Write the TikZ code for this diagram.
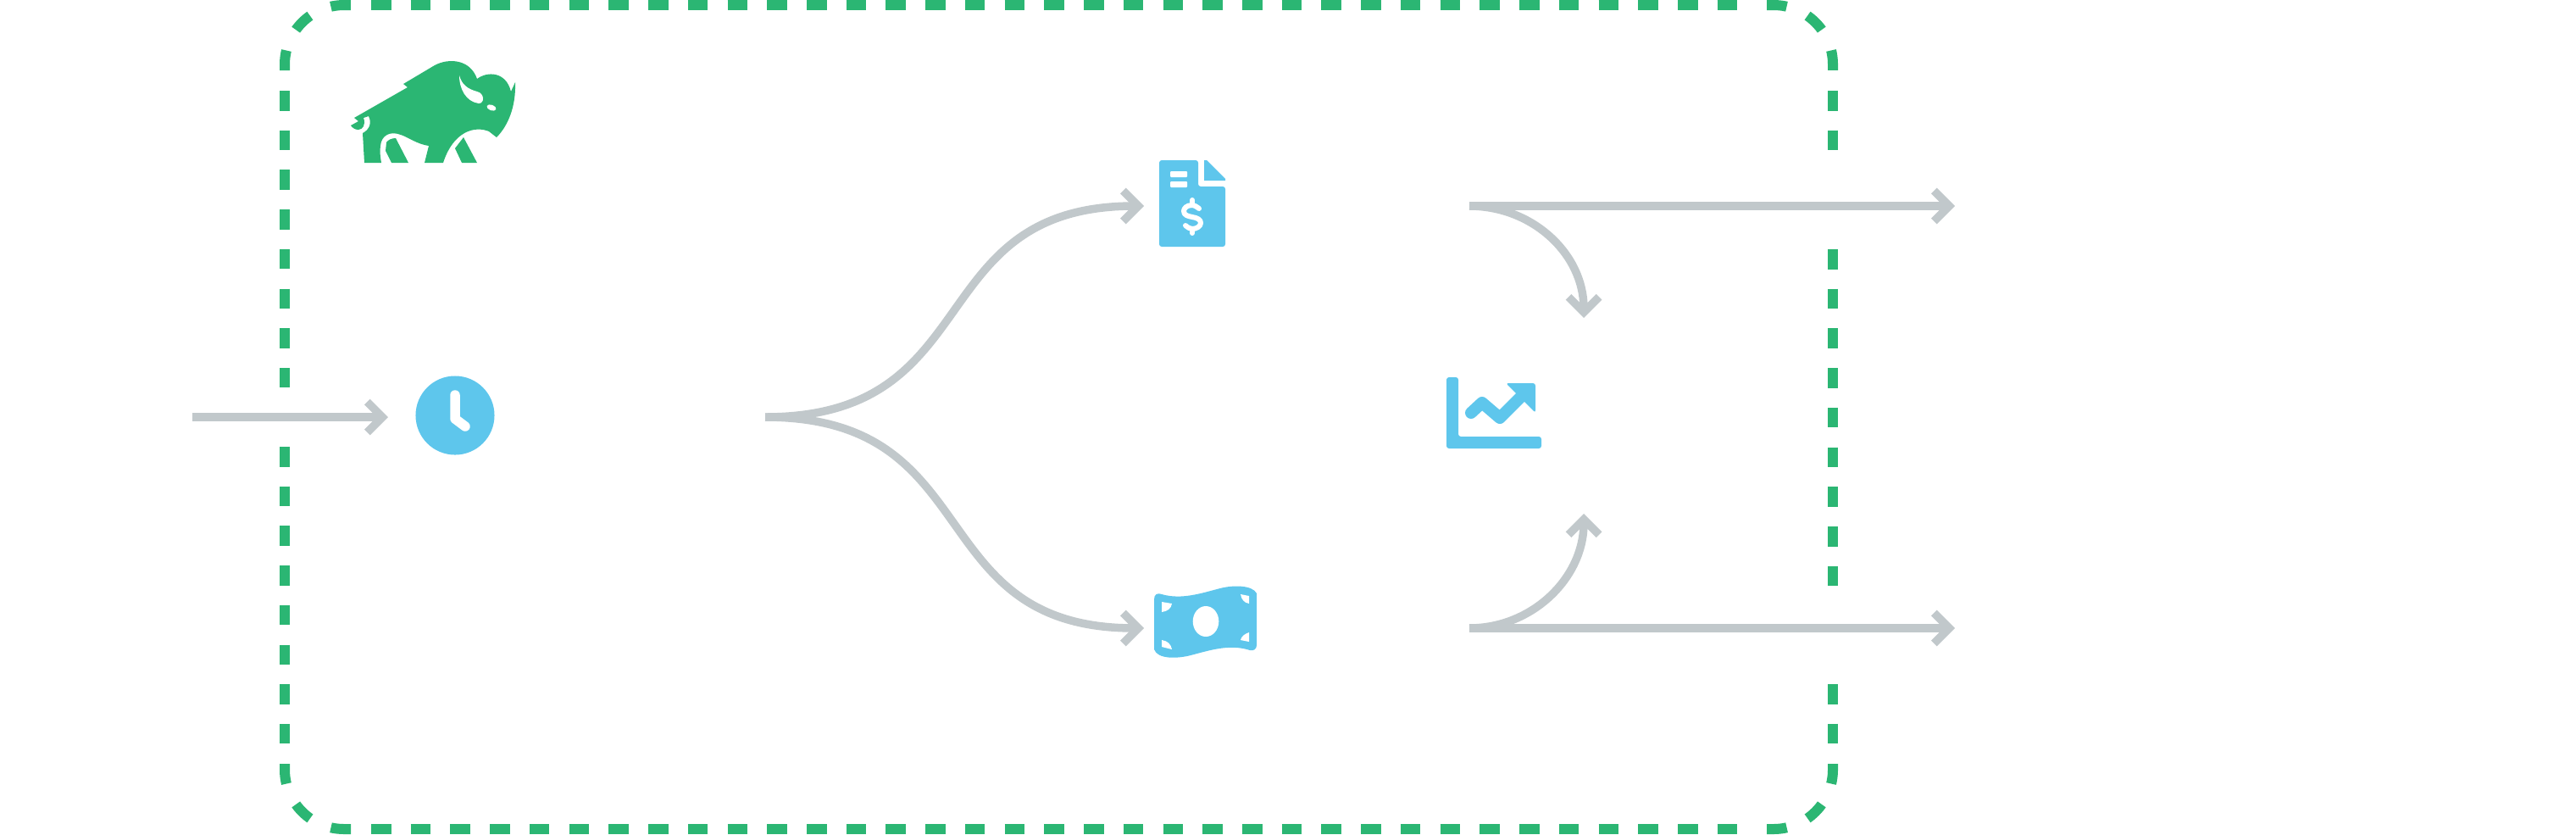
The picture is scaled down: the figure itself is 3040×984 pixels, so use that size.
\documentclass[tikz,border=0pt]{standalone}
\usetikzlibrary{arrows.meta}

\definecolor{boxgreen}{HTML}{2BB673}
\definecolor{iconblue}{HTML}{5EC6EC}
\definecolor{flowgrey}{HTML}{C1C8CB}

\begin{document}
\begin{tikzpicture}[x=0.01cm, y=-0.01cm,
    flow/.style={draw=flowgrey, line width=0.095cm, -{Straight Barb[length=0.18cm, width=0.36cm, line width=0.095cm]}},
    wallside/.style={draw=boxgreen, line width=0.12cm, dash pattern=on 0.235cm off 0.232cm},
    wallcorner/.style={draw=boxgreen, line width=0.12cm, rounded corners=0.7cm, dash pattern=on 0.236cm off 0.27cm},
    icon/.style={fill=iconblue, draw=none},
    cut/.style={fill=white, draw=none},
    hand/.style={draw=white, line cap=round, line join=round},
    clockface/.style={circle, fill=iconblue, inner sep=0pt, minimum size=0.93cm}]
  \useasboundingbox (0,0) rectangle (3040,984);

  \foreach \a/\b/\c/\d in {336/107/336/457, 336/527/336/877, 2163/107/2163/177, 2163/294/2163/691, 2163/807/2163/877, 438/6/2061/6, 438/978/2061/978}
    \draw[wallside] (\a,\b) -- (\c,\d);
  \draw[wallcorner] (336,83) -- (336,6) -- (414,6);
  \draw[wallcorner] (2085,6) -- (2163,6) -- (2163,83);
  \draw[wallcorner] (2163,901) -- (2163,978) -- (2085,978);
  \draw[wallcorner] (414,978) -- (336,978) -- (336,901);

  \coordinate (in) at (227,492);
  \coordinate (intip) at (458,492);
  \coordinate (split) at (903,492);
  \coordinate (doctip) at (1350,243);
  \coordinate (billtip) at (1350,741);
  \coordinate (upper) at (1734,243);
  \coordinate (lower) at (1734,741);
  \coordinate (uppertip) at (2307,243);
  \coordinate (lowertip) at (2307,741);
  \coordinate (chartin) at (1869,375);
  \coordinate (chartout) at (1869,606);

  \node (clock) [clockface] at (537,490) {};
  \draw[hand, line width=0.115cm] (537,466) -- (537,494) -- (549,503);

  \draw[flow] (in) -- (intip);
  \draw[flow] (split) .. controls +(264,0) and +(-264,0) .. (doctip);
  \draw[flow] (split) .. controls +(264,0) and +(-264,0) .. (billtip);
  \draw[flow] (upper) -- (uppertip);
  \draw[flow] (lower) -- (lowertip);
  \draw[flow] (upper) .. controls +(75,0) and +(0,-75) .. (chartin);
  \draw[flow] (lower) .. controls +(75,0) and +(0,75) .. (chartout);

  \fill[boxgreen] (430,192) -- (428,157) .. controls (436,153) and (439,145) .. (435,137) -- (429,139)
    .. controls (432,147) and (428,153) .. (423,153) .. controls (419,153) and (416,151) .. (414,148)
    -- (423,143) -- (418,139) -- (481,103) -- (476,99) -- (513,77)
    .. controls (530,68) and (555,70) .. (563,93) .. controls (575,84) and (597,84) .. (603,108)
    -- (608,97) .. controls (609,125) and (600,148) .. (586,162) -- (577,155)
    .. controls (560,148) and (535,155) .. (523,192) -- (501,192) -- (506,172)
    .. controls (492,170) and (482,162) .. (473,159) .. controls (460,154) and (450,160) .. (449,172)
    .. controls (448,180) and (449,186) .. (450,192) -- cycle;
  \fill[boxgreen] (456,168) .. controls (458,165) and (462,163) .. (467,163) -- (482,192) -- (462,192) -- (455,178) -- cycle;
  \fill[boxgreen] (547,162) -- (563,192) -- (545,192) -- (537,175) -- cycle;
  \fill[cut] (542,89) .. controls (542,105) and (550,120) .. (565,122) .. controls (572,122) and (572,110) .. (563,108) .. controls (552,105) and (545,100) .. (542,89) -- cycle;
  \fill[cut, rotate around={-20:(580,127)}] (580,127) ellipse (0.057cm and 0.033cm);

  \fill[icon, rounded corners=0.03cm] (1368,189) -- (1414,189) -- (1414,220) -- (1446,220) -- (1446,291) -- (1368,291) -- cycle;
  \fill[icon] (1421,189) -- (1424,189) -- (1446,211) -- (1446,213) -- (1421,213) -- cycle;
  \fill[cut, rounded corners=0.01cm] (1381,202) rectangle (1401,209);
  \fill[cut, rounded corners=0.01cm] (1381,214) rectangle (1401,221);
  \draw[hand, line width=0.06cm] (1415,246) .. controls (1411,243) and (1409,242) .. (1407,242)
    .. controls (1400,242) and (1397,246) .. (1397,249) .. controls (1397,254) and (1402,255) .. (1407,256)
    .. controls (1413,257) and (1417,259) .. (1417,263) .. controls (1417,267) and (1412,270) .. (1407,270)
    .. controls (1404,270) and (1401,268) .. (1399,266);
  \draw[hand, line width=0.06cm] (1407,236) -- (1407,242);
  \draw[hand, line width=0.06cm] (1407,270) -- (1407,275);

  \fill[icon] (1362,707) .. controls (1362,701) and (1366,699) .. (1371,701) .. controls (1395,708) and (1420,699) .. (1440,694)
    .. controls (1455,690) and (1478,690) .. (1483,700) -- (1483,761) .. controls (1483,766) and (1479,768) .. (1475,767)
    .. controls (1450,759) and (1425,768) .. (1405,773) .. controls (1390,777) and (1366,778) .. (1362,766) -- cycle;
  \fill[cut] (1423,733) ellipse (0.153cm and 0.18cm);
  \fill[cut] (1371,710) -- (1383,712) .. controls (1382,718) and (1378,721) .. (1371,722) -- cycle;
  \fill[cut] (1371,755) -- (1371,763) -- (1383,766) .. controls (1382,760) and (1378,756) .. (1371,755) -- cycle;
  \fill[cut] (1464,701) -- (1474,703) -- (1474,712) .. controls (1468,711) and (1465,707) .. (1464,701) -- cycle;
  \fill[cut] (1474,746) -- (1474,757) -- (1464,755) .. controls (1465,751) and (1468,748) .. (1474,746) -- cycle;

  \fill[icon, rounded corners=0.03cm] (1707,445) -- (1721,445) -- (1721,515) -- (1819,515) -- (1819,529) -- (1707,529) -- cycle;
  \draw[iconblue, line width=0.14cm, line cap=round, line join=round] (1736,487) -- (1749,475) -- (1770,493) -- (1795,468);
  \fill[icon, rounded corners=0.03cm] (1777,452) -- (1812,452) -- (1812,487) -- cycle;
\end{tikzpicture}
\end{document}
